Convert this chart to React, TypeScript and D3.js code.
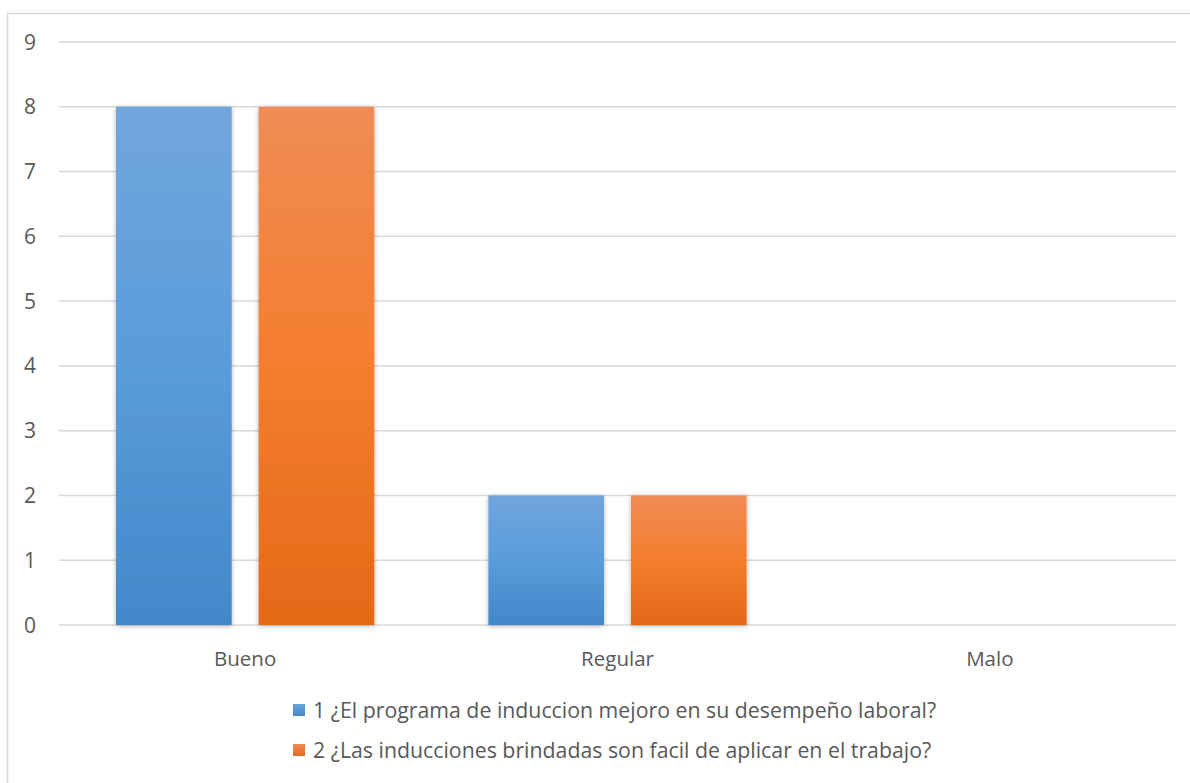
import React from "react";
import * as d3 from "d3";

const categories = ["Bueno", "Regular", "Malo"];
const seriesNames = [
  "1 ¿El programa de induccion mejoro en su desempeño laboral?",
  "2 ¿Las inducciones brindadas son facil de aplicar en el trabajo?",
];
const series1 = [8, 2, 0];
const series2 = [8, 2, 0];
const yTicks = [0, 1, 2, 3, 4, 5, 6, 7, 8, 9];

const W = 1190;
const H = 783;
const plot = { left: 59, right: 1176, top: 42, bottom: 625 };
const FONT = "'Open Sans', 'Noto Sans', sans-serif";
const TEXT = "#595959";

export default function App() {
  const x = d3
    .scaleBand<string>()
    .domain(categories)
    .range([plot.left, plot.right])
    .paddingInner(0)
    .paddingOuter(0);
  const inner = d3
    .scaleBand<number>()
    .domain([0, 1])
    .range([0, x.bandwidth()])
    .paddingInner(0.189)
    .paddingOuter(0.4);
  const y = d3.scaleLinear().domain([0, 9]).range([plot.bottom, plot.top]);
  const data = [series1, series2];
  const grads = ["gBlue", "gOrange"];

  return (
    <svg
      width={W}
      height={H}
      style={{ position: "absolute", left: 0, top: 0, background: "#fff" }}
    >
      <defs>
        <linearGradient id="gBlue" x1="0" y1="0" x2="0" y2="1">
          <stop offset="0%" stopColor="#71a6dc" />
          <stop offset="50%" stopColor="#5a9bdb" />
          <stop offset="100%" stopColor="#4288c8" />
        </linearGradient>
        <linearGradient id="gOrange" x1="0" y1="0" x2="0" y2="1">
          <stop offset="0%" stopColor="#f08c55" />
          <stop offset="50%" stopColor="#f47d2e" />
          <stop offset="100%" stopColor="#e46918" />
        </linearGradient>
        <linearGradient id="lBlue" x1="0" y1="0" x2="0" y2="1">
          <stop offset="0%" stopColor="#6aa3dc" />
          <stop offset="100%" stopColor="#4389ca" />
        </linearGradient>
        <linearGradient id="lOrange" x1="0" y1="0" x2="0" y2="1">
          <stop offset="0%" stopColor="#f08a52" />
          <stop offset="100%" stopColor="#e66b1a" />
        </linearGradient>
        <filter id="shadow" x="-10%" y="-5%" width="120%" height="110%">
          <feDropShadow dx="0" dy="1" stdDeviation="2.5" floodColor="#000" floodOpacity="0.3" />
        </filter>
      </defs>
      <rect x={7.5} y={13.5} width={W} height={H} fill="#fff" stroke="#d9d9d9" strokeWidth={1.5} />
      {yTicks.map((t) => (
        <g key={t}>
          <line
            x1={plot.left}
            x2={plot.right}
            y1={y(t)}
            y2={y(t)}
            stroke="#d9d9d9"
            strokeWidth={1.5}
          />
          <text
            x={36}
            y={y(t)}
            dy="0.36em"
            textAnchor="end"
            fontFamily={FONT}
            fontSize={21}
            fill={TEXT}
          >
            {t}
          </text>
        </g>
      ))}
      {categories.map((c, ci) =>
        data.map((s, si) =>
          s[ci] > 0 ? (
            <rect
              key={c + si}
              x={(x(c) as number) + (inner(si) as number)}
              y={y(s[ci])}
              width={inner.bandwidth()}
              height={y(0) - y(s[ci])}
              fill={`url(#${grads[si]})`}
              filter="url(#shadow)"
            />
          ) : null
        )
      )}
      {categories.map((c) => (
        <text
          key={c}
          x={(x(c) as number) + x.bandwidth() / 2}
          y={659}
          dy="0.36em"
          textAnchor="middle"
          fontFamily={FONT}
          fontSize={20.5}
          fill={TEXT}
        >
          {c}
        </text>
      ))}
      {seriesNames.map((n, i) => (
        <g key={n} transform={`translate(293, ${710 + i * 40})`}>
          <rect x={0} y={-6} width={12} height={12} fill={`url(#${i === 0 ? "lBlue" : "lOrange"})`} />
          <text x={20} y={0} dy="0.36em" fontFamily={FONT} fontSize={21.3} fill={TEXT}>
            {n}
          </text>
        </g>
      ))}
    </svg>
  );
}
